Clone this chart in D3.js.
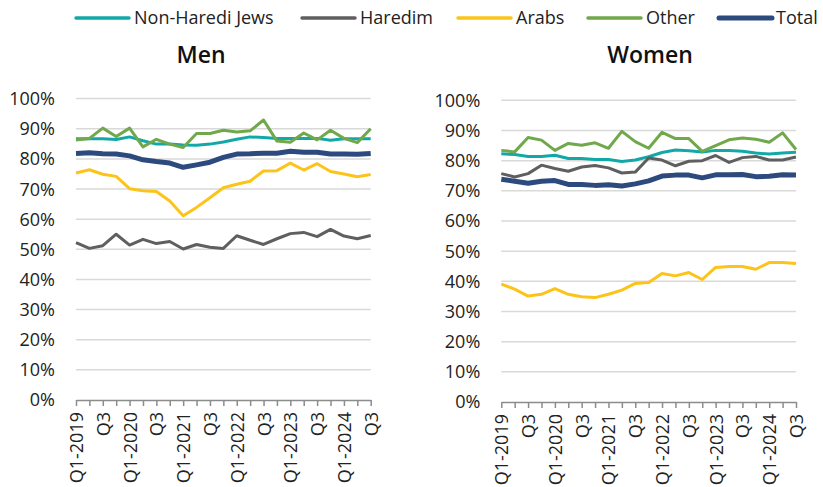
<!DOCTYPE html>
<html>
<head>
<meta charset="utf-8">
<script src="https://cdn.jsdelivr.net/npm/d3@7"></script>
<style>
  body { margin: 0; background: #fff; }
  svg { font-family: "Open Sans", sans-serif; }
</style>
</head>
<body>
<svg id="chart" width="823" height="487"></svg>
<script>
// quarters Q1-2019 .. Q3-2024
var quarters = [];
[2019, 2020, 2021, 2022, 2023, 2024].forEach(function(y) {
  [1, 2, 3, 4].forEach(function(q) {
    if (y === 2024 && q === 4) return;
    quarters.push("Q" + q + "-" + y);
  });
});
var yTicks = [0, 10, 20, 30, 40, 50, 60, 70, 80, 90, 100];
var seriesNames = ["Non-Haredi Jews", "Haredim", "Arabs", "Other", "Total"];

// Men
var menNonHaredi = [86.7, 86.7, 86.7, 86.4, 87.3, 86.0, 84.9, 84.9, 84.6, 84.5, 84.9, 85.6, 86.5, 87.3, 87.1, 86.8, 86.8, 86.8, 86.8, 86.2, 86.7, 86.7, 86.7];
var menHaredim   = [52.2, 50.3, 51.2, 55.0, 51.4, 53.3, 51.9, 52.6, 50.1, 51.6, 50.7, 50.3, 54.5, 53.0, 51.6, 53.5, 55.2, 55.6, 54.2, 56.6, 54.4, 53.5, 54.6];
var menArabs     = [75.3, 76.4, 74.9, 74.2, 70.1, 69.4, 69.2, 66.0, 61.1, 63.9, 67.1, 70.4, 71.6, 72.6, 76.0, 76.1, 78.6, 76.3, 78.4, 75.8, 75.0, 74.1, 74.8];
var menOther     = [86.3, 86.8, 90.2, 87.4, 90.2, 84.0, 86.5, 84.9, 83.8, 88.4, 88.4, 89.5, 88.9, 89.3, 92.9, 85.9, 85.5, 88.6, 86.3, 89.5, 86.8, 85.4, 90.0];
var menTotal     = [81.8, 82.0, 81.7, 81.6, 81.0, 79.7, 79.1, 78.6, 77.2, 78.0, 78.9, 80.5, 81.6, 81.7, 81.9, 81.9, 82.5, 82.2, 82.2, 81.6, 81.6, 81.5, 81.8];

// Women
var womenNonHaredi = [82.3, 82.0, 81.4, 81.4, 81.8, 80.7, 80.7, 80.4, 80.4, 79.7, 80.2, 81.3, 82.7, 83.5, 83.3, 82.9, 83.4, 83.4, 83.1, 82.5, 82.2, 82.5, 82.8];
var womenHaredim   = [75.7, 74.6, 75.7, 78.5, 77.4, 76.5, 77.9, 78.4, 77.6, 75.9, 76.2, 80.9, 80.2, 78.3, 79.8, 80.0, 81.7, 79.4, 81.0, 81.4, 80.2, 80.2, 81.2];
var womenArabs     = [39.1, 37.4, 35.1, 35.7, 37.6, 35.7, 34.9, 34.6, 35.7, 37.1, 39.3, 39.6, 42.6, 41.8, 42.9, 40.6, 44.6, 44.9, 44.9, 44.0, 46.2, 46.2, 45.9];
var womenOther     = [83.4, 82.9, 87.7, 86.8, 83.4, 85.7, 85.1, 85.9, 84.1, 89.7, 86.3, 84.1, 89.4, 87.3, 87.3, 83.1, 85.0, 86.9, 87.5, 87.1, 86.1, 89.2, 83.7];
var womenTotal     = [73.8, 73.2, 72.5, 73.2, 73.4, 72.1, 72.1, 71.8, 72.0, 71.6, 72.3, 73.3, 74.9, 75.2, 75.2, 74.3, 75.3, 75.3, 75.4, 74.7, 74.8, 75.3, 75.2];

var colors = ["#13a8a8", "#5f5f5f", "#fcc419", "#70a84b", "#2d4a7e"];
var widths = [3, 3, 3, 3, 5];

var svg = d3.select("#chart");

function panel(title, data, left, right, top, bottom, titleX) {
  var x = d3.scalePoint().domain(quarters).range([left, right]);
  var y = d3.scaleLinear().domain([0, 100]).range([bottom, top]);
  var g = svg.append("g");

  // gridlines
  g.append("g").selectAll("line")
    .data(yTicks.filter(function(d) { return d > 0; }))
    .enter().append("line")
      .attr("x1", left).attr("x2", right)
      .attr("y1", function(d) { return y(d); })
      .attr("y2", function(d) { return y(d); })
      .attr("stroke", "#d9d9d9")
      .attr("stroke-width", 1.5);

  // y labels
  g.append("g").selectAll("text")
    .data(yTicks)
    .enter().append("text")
      .attr("x", left - 21)
      .attr("y", function(d) { return y(d); })
      .attr("dy", "0.36em")
      .attr("text-anchor", "end")
      .attr("font-size", 18)
      .attr("fill", "#222")
      .text(function(d) { return d + "%"; });

  // x axis
  var xAxis = g.append("g")
      .attr("transform", "translate(0," + bottom + ")")
      .call(d3.axisBottom(x).tickSize(6).tickSizeOuter(0)
        .tickFormat(function(d, i) {
          if (i % 4 === 0) return d;
          if (i % 2 === 0) return "Q3";
          return "";
        }));
  xAxis.select(".domain").attr("stroke", "#8c8c8c").attr("stroke-width", 1.5);
  xAxis.selectAll(".tick line").attr("stroke", "#8c8c8c").attr("stroke-width", 1.5);
  xAxis.selectAll(".tick text")
      .attr("font-family", "Open Sans, sans-serif")
      .attr("font-size", 18)
      .attr("fill", "#222")
      .attr("text-anchor", "end")
      .attr("transform", "rotate(-90)")
      .attr("x", -12)
      .attr("y", 0)
      .attr("dy", "0.36em");

  var line = d3.line()
      .x(function(d, i) { return x(quarters[i]); })
      .y(function(d) { return y(d); });

  data.forEach(function(s, k) {
    g.append("path")
      .datum(s)
      .attr("fill", "none")
      .attr("stroke", colors[k])
      .attr("stroke-width", widths[k])
      .attr("stroke-linejoin", "round")
      .attr("d", line);
  });

  g.append("text")
    .attr("x", titleX)
    .attr("y", 63)
    .attr("text-anchor", "middle")
    .attr("font-size", 23)
    .attr("font-weight", 600)
    .attr("fill", "#111")
    .text(title);
}

panel("Men", [menNonHaredi, menHaredim, menArabs, menOther, menTotal], 76, 370.7, 98.6, 400, 201);
panel("Women", [womenNonHaredi, womenHaredim, womenArabs, womenOther, womenTotal], 501.3, 796, 100.3, 402, 650);

// legend
var legendX = [76, 302, 458, 588, 719];
var legend = svg.append("g").selectAll("g")
    .data(seriesNames)
    .enter().append("g")
      .attr("transform", function(d, i) { return "translate(" + legendX[i] + ",18)"; });
legend.append("line")
    .attr("x1", 0).attr("x2", 53)
    .attr("stroke", function(d, i) { return colors[i]; })
    .attr("stroke-width", function(d, i) { return i === 4 ? 5 : 3.5; })
    .attr("stroke-linecap", "round");
legend.append("text")
    .attr("x", function(d, i) { return i === 4 ? 57 : 58; })
    .attr("dy", "0.36em")
    .attr("font-size", 18)
    .attr("fill", "#222")
    .text(function(d) { return d; });
</script>
</body>
</html>
